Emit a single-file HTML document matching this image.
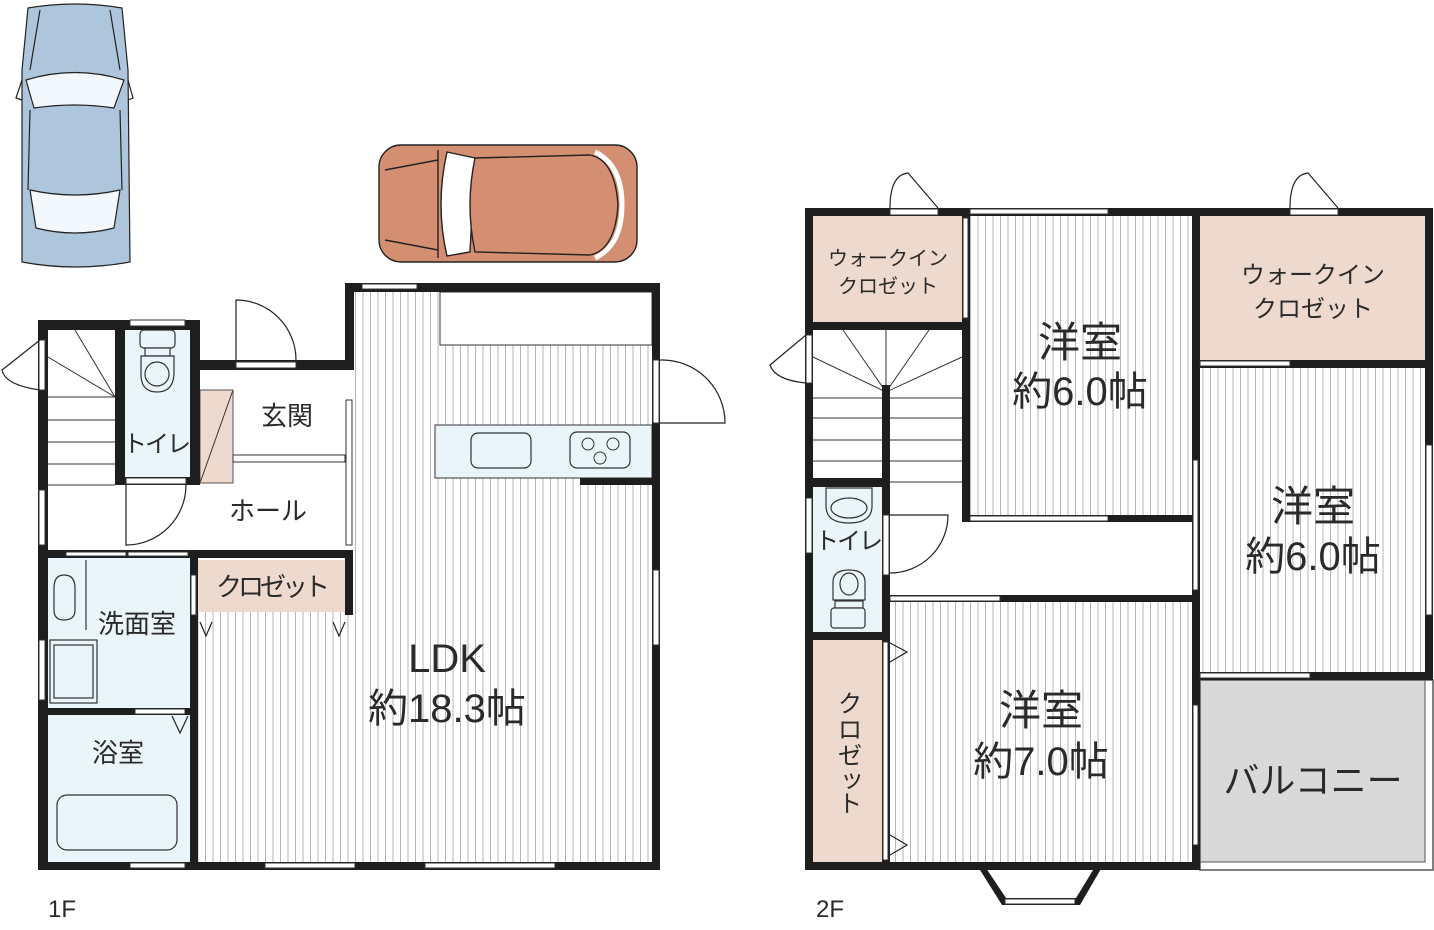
<!DOCTYPE html>
<html><head><meta charset="utf-8"><style>
html,body{margin:0;padding:0;background:#fff}
svg{display:block}
text{font-family:"Liberation Sans","Noto Sans CJK JP",sans-serif;fill:#2a2a2a}
</style></head><body>
<svg width="1434" height="930" viewBox="0 0 1434 930" xmlns="http://www.w3.org/2000/svg">
<defs>
<pattern id="st" width="7.5" height="10" patternUnits="userSpaceOnUse">
<rect width="7.5" height="10" fill="#fff"/><line x1="3" y1="0" x2="3" y2="10" stroke="#b5b5b5" stroke-width="1"/>
</pattern>
</defs>

<!-- Blue car -->
<g stroke="#222" stroke-width="1.2">
<path d="M28 8 Q75 0 122 8 L128 70 L130 262 Q75 272 22 262 L22 70 Z" fill="#aec6dc"/>
<path d="M26 80 Q75 65 124 80 L114 108 Q75 102 34 108 Z" fill="#f3f8fc"/>
<path d="M30 190 Q75 200 120 190 L114 228 Q75 238 36 228 Z" fill="#f3f8fc"/>
<path d="M22 80 L16 98 L22 100 M128 80 L133 98 L128 100" fill="none"/>
<path d="M40 10 L30 70 M110 10 L120 70 M30 110 L28 190 M120 110 L122 190" fill="none"/>
</g>

<!-- Orange car -->
<g stroke="#222" stroke-width="1.4">
<rect x="379" y="145" width="258" height="117" rx="22" fill="#d48f72"/>
<path d="M447 152 L475 158 L470 252 L447 256 Q435 205 447 152Z" fill="#fff"/>
<path d="M475 158 L590 155 Q615 160 618 205 Q615 250 590 255 L475 252 Q465 205 475 158Z" fill="#d48f72"/>
<path d="M595 152 Q622 165 622 205 Q622 245 595 258" fill="none" stroke-width="5" stroke="#fff"/>
<path d="M385 170 L438 160 M385 240 L438 250 M438 150 L438 258" fill="none"/>
</g>

<!-- ================= 1F ================= -->
<rect x="48" y="330" width="67" height="220" fill="#fff"/>
<rect x="125" y="330" width="65" height="147" fill="#e9f5f8"/>
<rect x="200" y="390" width="33" height="93" fill="#eed9ce"/>
<line x1="200" y1="483" x2="233" y2="390" stroke="#333" stroke-width="1"/>
<rect x="200" y="390" width="33" height="93" fill="none" stroke="#555" stroke-width="1"/>
<rect x="48" y="558" width="142" height="150" fill="#e9f5f8"/>
<rect x="48" y="715" width="142" height="147" fill="#e9f5f8"/>
<rect x="197" y="560" width="148" height="52" fill="#eed9ce"/>
<rect x="197" y="612" width="455" height="250" fill="url(#st)"/>
<rect x="352" y="292" width="300" height="320" fill="url(#st)"/>
<rect x="440" y="292" width="212" height="53" fill="#fff" stroke="#333" stroke-width="1"/>
<rect x="435" y="425" width="217" height="53" fill="#e9f5f8" stroke="#333" stroke-width="1"/>
<rect x="471" y="433" width="60" height="35" rx="7" fill="#e9f5f8" stroke="#333" stroke-width="1.2"/>
<rect x="570" y="432" width="60" height="36" rx="7" fill="#e9f5f8" stroke="#333" stroke-width="1.2"/>
<circle cx="588" cy="444" r="6" fill="none" stroke="#333"/><circle cx="613" cy="444" r="6" fill="none" stroke="#333"/><circle cx="600" cy="458" r="6" fill="none" stroke="#333"/>

<g stroke="#333" stroke-width="1" fill="none">
<line x1="48" y1="357" x2="115" y2="397"/><line x1="75" y1="330" x2="115" y2="397"/>
<line x1="48" y1="397" x2="115" y2="397"/><line x1="48" y1="420" x2="115" y2="420"/><line x1="48" y1="442" x2="115" y2="442"/><line x1="48" y1="464" x2="115" y2="464"/><line x1="48" y1="485" x2="115" y2="485"/>
</g>
<g stroke="#333" stroke-width="1.2" fill="#e9f5f8">
<rect x="140" y="330" width="35" height="18" rx="4"/><rect x="145" y="348" width="25" height="8"/>
<path d="M141 356 L174 356 L174 372 Q174 392 157 392 Q140 392 141 372Z"/><circle cx="157" cy="374" r="12"/>
</g>
<g stroke="#333" stroke-width="1.2" fill="#e9f5f8">
<rect x="50" y="640" width="47" height="63"/><rect x="54" y="645" width="39" height="53"/>
<rect x="57" y="795" width="120" height="55" rx="10"/>
<path d="M54 588 Q54 575 64 575 Q75 575 75 588 L75 610 Q75 620 64 620 Q54 620 54 610Z"/>
<line x1="86" y1="560" x2="86" y2="630"/>
</g>
<g fill="#1e1e1e">
<rect x="38" y="320" width="162" height="10"/>
<rect x="38" y="320" width="10" height="550"/>
<rect x="115" y="320" width="10" height="165"/>
<rect x="190" y="320" width="10" height="165"/>
<rect x="115" y="477" width="85" height="8"/>
<rect x="200" y="360" width="152" height="10"/>
<rect x="345" y="283" width="315" height="9"/>
<rect x="345" y="283" width="9" height="87"/>
<rect x="652" y="283" width="8" height="587"/>
<rect x="38" y="862" width="622" height="8"/>
<rect x="38" y="550" width="314" height="8"/>
<rect x="345" y="550" width="8" height="65"/>
<rect x="190" y="550" width="8" height="320"/>
<rect x="38" y="708" width="160" height="7"/>
<rect x="580" y="478" width="80" height="7"/>
</g>
<g fill="#fff" stroke="#333" stroke-width="1">
<rect x="130" y="320" width="55" height="6"/>
<rect x="362" y="284" width="55" height="5"/>
<rect x="236" y="362" width="60" height="6"/>
<rect x="126" y="478" width="60" height="6"/>
<rect x="39" y="340" width="6" height="50"/>
<rect x="39" y="490" width="6" height="55"/>
<rect x="39" y="640" width="6" height="60"/>
<rect x="346" y="400" width="6" height="145"/>
<rect x="233" y="455" width="112" height="7"/>
<rect x="653" y="360" width="6" height="63"/>
<rect x="653" y="570" width="6" height="75"/>
<rect x="66" y="552" width="60" height="4"/>
<rect x="128" y="552" width="60" height="4"/>
<rect x="191" y="575" width="5" height="40"/>
<rect x="265" y="863" width="90" height="5"/>
<rect x="425" y="863" width="130" height="5"/>
<rect x="130" y="863" width="55" height="5"/>
<rect x="135" y="709" width="50" height="5"/>
</g>
<g fill="none" stroke="#222" stroke-width="1.2">
<path d="M236 360 L236 300 A60 60 0 0 1 296 360"/>
<path d="M40 340 L2 370 Q5 385 40 390"/>
<path d="M126 485 L126 545 A60 60 0 0 0 186 485"/>
<path d="M660 423 L725 423 A63 63 0 0 0 660 360"/>
<path d="M200 622 L206 636 L212 622 M333 622 L339 636 L345 622 M172 716 L180 733 L188 716"/>
</g>
<text x="287" y="425" font-size="26" text-anchor="middle">玄関</text>
<text x="156" y="452" font-size="24" text-anchor="middle" letter-spacing="-2">トイレ</text>
<text x="271" y="596" font-size="26" text-anchor="middle" letter-spacing="-4">クロゼット</text>
<text x="268" y="520" font-size="26" text-anchor="middle">ホール</text>
<text x="137" y="633" font-size="26" text-anchor="middle">洗面室</text>
<text x="118" y="762" font-size="26" text-anchor="middle">浴室</text>
<text x="447" y="672" font-size="40" text-anchor="middle">LDK</text>
<text x="447" y="722" font-size="40" text-anchor="middle">約18.3帖</text>
<text x="48" y="917" font-size="24">1F</text>

<!-- ================= 2F ================= -->
<rect x="813" y="216" width="149" height="106" fill="#eed9ce"/>
<rect x="970" y="216" width="222" height="299" fill="url(#st)"/>
<rect x="1200" y="216" width="225" height="144" fill="#eed9ce"/>
<rect x="1200" y="368" width="225" height="304" fill="url(#st)"/>
<rect x="1200" y="680" width="225" height="182" fill="#d9d9d9" stroke="#555" stroke-width="1"/>
<rect x="1200" y="680" width="233" height="190" fill="none" stroke="#555" stroke-width="1.5"/>
<rect x="813" y="487" width="69" height="145" fill="#e9f5f8"/>
<rect x="813" y="640" width="69" height="222" fill="#eed9ce"/>
<rect x="890" y="602" width="302" height="260" fill="url(#st)"/>
<g stroke="#333" stroke-width="1" fill="none">
<line x1="813" y1="357" x2="886" y2="392"/><line x1="843" y1="330" x2="886" y2="392"/><line x1="886" y1="330" x2="886" y2="392"/><line x1="929" y1="330" x2="886" y2="392"/><line x1="962" y1="357" x2="886" y2="392"/>
<line x1="813" y1="398" x2="962" y2="398"/><line x1="813" y1="418" x2="962" y2="418"/><line x1="813" y1="440" x2="962" y2="440"/><line x1="813" y1="461" x2="962" y2="461"/><line x1="890" y1="482" x2="962" y2="482"/>
</g>
<g stroke="#333" stroke-width="1.2" fill="#e9f5f8">
<path d="M826 488 L872 488 L872 506 Q872 523 849 523 Q826 523 826 506Z"/><ellipse cx="849" cy="508" rx="18" ry="10"/>
<path d="M833 600 L833 582 Q833 570 849 570 Q865 570 865 582 L865 600Z"/><ellipse cx="849" cy="584" rx="9" ry="11"/>
<rect x="835" y="601" width="28" height="7"/><rect x="831" y="608" width="34" height="20" rx="3"/>
</g>
<g fill="#1e1e1e">
<rect x="805" y="208" width="628" height="8"/>
<rect x="805" y="208" width="8" height="662"/>
<rect x="1425" y="208" width="8" height="472"/>
<rect x="805" y="862" width="395" height="8"/>
<rect x="813" y="322" width="157" height="8"/>
<rect x="962" y="216" width="8" height="306"/>
<rect x="962" y="515" width="238" height="7"/>
<rect x="1192" y="208" width="8" height="662"/>
<rect x="1200" y="360" width="233" height="8"/>
<rect x="1200" y="672" width="233" height="8"/>
<rect x="813" y="478" width="77" height="9"/>
<rect x="882" y="385" width="8" height="485"/>
<rect x="813" y="632" width="77" height="8"/>
<rect x="882" y="595" width="318" height="7"/>
<path d="M975 862 L1002 905 L1080 905 L1105 862 L1098 862 L1076 898 L1006 898 L982 862Z"/>
</g>
<g fill="#fff" stroke="#333" stroke-width="1">
<rect x="890" y="209" width="48" height="6"/>
<rect x="970" y="209" width="138" height="5"/>
<rect x="1290" y="209" width="48" height="6"/>
<rect x="963" y="218" width="5" height="100"/>
<rect x="806" y="335" width="6" height="48"/>
<rect x="806" y="498" width="6" height="55"/>
<rect x="883" y="515" width="6" height="60"/>
<rect x="970" y="516" width="138" height="5"/>
<rect x="1193" y="460" width="5" height="130"/>
<rect x="1200" y="361" width="90" height="5"/>
<rect x="1426" y="445" width="6" height="170"/>
<rect x="890" y="596" width="110" height="5"/>
<rect x="1200" y="673" width="110" height="5"/>
<rect x="1193" y="705" width="5" height="140"/>
<rect x="883" y="642" width="5" height="218"/>
<rect x="1005" y="899" width="70" height="5"/>
</g>
<g fill="none" stroke="#222" stroke-width="1.2">
<path d="M890 208 Q890 175 908 173 L938 208"/>
<path d="M1290 208 Q1290 175 1308 173 L1338 208"/>
<path d="M806 335 L770 365 Q775 380 806 383"/>
<path d="M890 515 L948 515 A58 58 0 0 1 890 573"/>
<path d="M890 643 L907 652 L890 662 M890 835 L907 845 L890 855"/>
</g>
<text x="888" y="265" font-size="20" text-anchor="middle">ウォークイン</text>
<text x="888" y="293" font-size="20" text-anchor="middle">クロゼット</text>
<text x="1313" y="283" font-size="24" text-anchor="middle">ウォークイン</text>
<text x="1313" y="317" font-size="24" text-anchor="middle">クロゼット</text>
<text x="1080" y="357" font-size="42" text-anchor="middle">洋室</text>
<text x="1080" y="405" font-size="40" text-anchor="middle">約6.0帖</text>
<text x="1313" y="521" font-size="42" text-anchor="middle">洋室</text>
<text x="1313" y="570" font-size="40" text-anchor="middle">約6.0帖</text>
<text x="1041" y="725" font-size="42" text-anchor="middle">洋室</text>
<text x="1041" y="775" font-size="40" text-anchor="middle">約7.0帖</text>
<text x="1313" y="793" font-size="36" text-anchor="middle">バルコニー</text>
<text x="848" y="549" font-size="24" text-anchor="middle" letter-spacing="-2">トイレ</text>
<g font-size="24" text-anchor="middle">
<text x="850" y="712">ク</text>
<text x="850" y="738">ロ</text>
<text x="850" y="764">ゼ</text>
<text x="852" y="787">ッ</text>
<text x="850" y="812">ト</text>
</g>
<text x="816" y="917" font-size="24">2F</text>
</svg>
</body></html>
